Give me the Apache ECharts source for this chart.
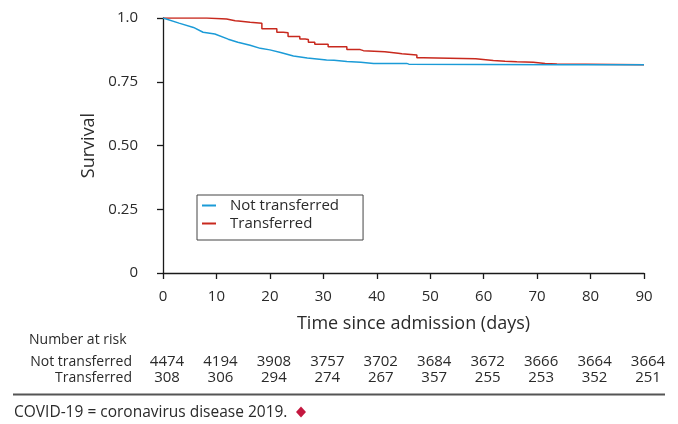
<!DOCTYPE html>
<html><head><meta charset="utf-8">
<script src="https://cdn.jsdelivr.net/npm/echarts/dist/echarts.min.js"></script>
<style>html,body{margin:0;padding:0;background:#fff}#c{width:678px;height:424px}</style>
</head><body><div id="c"></div>
<script>
const FONT = '"Open Sans", sans-serif';
const seriesNames = ['Not transferred', 'Transferred'];
// [day, survival]
const notTransferred = [[0,1.0],[3,0.98],[5.7,0.963],[7.5,0.944],[9.7,0.937],[12.2,0.917],[14,0.905],[16.3,0.893],[18.2,0.881],[20,0.875],[22,0.865],[24.4,0.851],[27,0.843],[30.6,0.835],[32,0.834],[34.4,0.829],[37,0.826],[39.4,0.822],[45.6,0.822],[46,0.819],[60,0.818],[75,0.817],[90,0.817]];
const transferred = [[0,1.0],[8.2,0.996],[11.9,0.989],[13.5,0.988],[14.1,0.983],[16.3,0.979],[18.5,0.958],[21.3,0.944],[22.5,0.942],[23.4,0.927],[25.6,0.918],[26.6,0.916],[27.2,0.905],[28.4,0.897],[30.9,0.887],[34.4,0.876],[36.9,0.872],[37.5,0.868],[41.5,0.862],[44.0,0.860],[44.7,0.855],[47.5,0.844],[48.7,0.840],[58.5,0.833],[61.8,0.830],[64,0.828],[66.2,0.826],[69.3,0.822],[71.5,0.820],[73.7,0.817],[90,0.817]];
const riskDays = [0,10,20,30,40,50,60,70,80,90];
const riskNot = [4474,4194,3908,3757,3702,3684,3672,3666,3664,3664];
const riskTr = [308,306,294,274,267,357,255,253,352,251];
const yTickLabels = {'0':'0','0.25':'0.25','0.5':'0.50','0.75':'0.75','1':'1.0'};
const xAxisTitle = 'Time since admission (days)';
const yAxisTitle = 'Survival';
const riskTitle = 'Number at risk';
const footnote = 'COVID-19 = coronavirus disease 2019.';

const chart = echarts.init(document.getElementById('c'), null, {renderer: 'canvas'});
const axisCol = '#1a1a1a';
const txtCol = '#2a2a2a';
chart.setOption({
  animation: false,
  textStyle: {fontFamily: FONT},
  grid: {left: 163, right: 34, top: 18, bottom: 151, containLabel: false},
  xAxis: {
    type: 'value', min: 0, max: 90, interval: 10, offset: 3,
    name: xAxisTitle, nameLocation: 'middle', nameGap: 39,
    nameTextStyle: {fontSize: 18, color: txtCol, fontFamily: FONT, padding: [0, 0, 0, 20]},
    axisLine: {show: true, lineStyle: {color: axisCol, width: 1.3}},
    axisTick: {show: true, length: 6, lineStyle: {color: axisCol, width: 1.3}},
    axisLabel: {fontSize: 15, color: txtCol, margin: 13, fontFamily: FONT},
    splitLine: {show: false}
  },
  yAxis: {
    type: 'value', min: 0, max: 1, interval: 0.25, offset: 10,
    name: yAxisTitle, nameLocation: 'middle', nameGap: 55, nameRotate: 90,
    nameTextStyle: {fontSize: 18, color: txtCol, fontFamily: FONT},
    axisLine: {show: true, lineStyle: {color: axisCol, width: 1.3}},
    axisTick: {show: true, length: 6, lineStyle: {color: axisCol, width: 1.3}},
    axisLabel: {fontSize: 15, color: txtCol, margin: 15, fontFamily: FONT,
      formatter: v => yTickLabels[String(v)] ?? String(v)},
    splitLine: {show: false}
  },
  legend: {
    orient: 'vertical', left: 197, top: 195,
    data: seriesNames,
    icon: 'rect',
    itemWidth: 14, itemHeight: 2, itemGap: 3,
    padding: [3, 24, 9, 5],
    borderColor: '#444', borderWidth: 1,
    textStyle: {fontSize: 15, color: txtCol, fontFamily: FONT, padding: [0, 0, 0, 9]}
  },
  series: [
    {name: seriesNames[0], type: 'line', data: notTransferred, symbol: 'none', showSymbol: false,
     z: 4, lineStyle: {color: '#1b9bd7', width: 1.5}, itemStyle: {color: '#1b9bd7'}},
    {name: seriesNames[1], type: 'line', data: transferred, step: 'end', symbol: 'none', showSymbol: false,
     z: 3, lineStyle: {color: '#c8291e', width: 1.5}, itemStyle: {color: '#c8291e'}}
  ]
});

const graphics = [];
const ts = (extra) => Object.assign({fontSize: 14, fill: txtCol, fontFamily: FONT, verticalAlign: 'middle'}, extra);
graphics.push({type: 'text', x: 29, y: 340, style: ts({text: riskTitle, align: 'left'})});
graphics.push({type: 'text', x: 132, y: 362, style: ts({text: seriesNames[0], align: 'right'})});
graphics.push({type: 'text', x: 132, y: 378, style: ts({text: seriesNames[1], align: 'right'})});
riskDays.forEach((d, i) => {
  const px = chart.convertToPixel({xAxisIndex: 0}, d) + 4;
  graphics.push({type: 'text', x: px, y: 362, style: ts({text: String(riskNot[i]), align: 'center', fontSize: 15})});
  graphics.push({type: 'text', x: px, y: 378, style: ts({text: String(riskTr[i]), align: 'center', fontSize: 15})});
});
graphics.push({type: 'line', shape: {x1: 13, y1: 394.5, x2: 665, y2: 394.5}, style: {stroke: '#555', lineWidth: 2}});
graphics.push({type: 'text', x: 14, y: 413, style: ts({text: footnote, align: 'left', fontSize: 15.5})});
graphics.push({type: 'polygon', shape: {points: [[301, 406.5], [306, 412], [301, 417.5], [296, 412]]}, style: {fill: '#c4173f'}});
chart.setOption({graphic: graphics});
</script>
</body></html>
